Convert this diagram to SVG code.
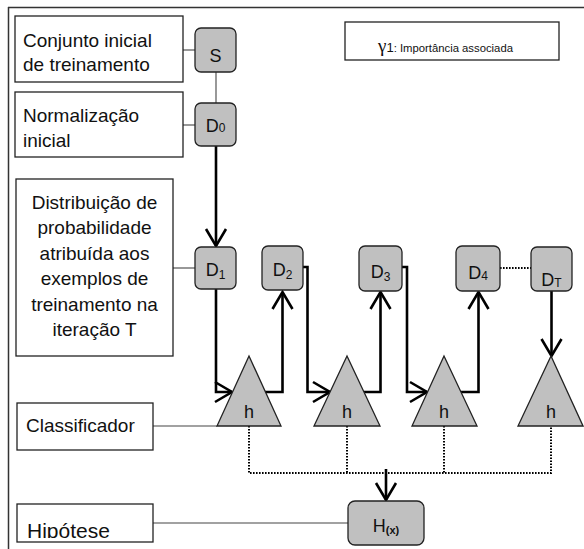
<svg xmlns="http://www.w3.org/2000/svg" width="584" height="549" viewBox="0 0 584 549">
<style>
.box{fill:#fff;stroke:#222;stroke-width:1.3}
.node{fill:#c0c0c0;stroke:#222;stroke-width:1.3}
.lbl{font-family:"Liberation Sans",Arial,sans-serif;font-size:19px;fill:#111}
.nl{font-family:"Liberation Sans",Arial,sans-serif;font-size:18px;fill:#111}
.thin{stroke:#444;stroke-width:1.1;fill:none}
.thick{stroke:#000;stroke-width:2.6;fill:none}
.dot{stroke:#000;stroke-width:2;stroke-dasharray:1.6 1.4;fill:none}
</style>
<defs>
<marker id="arr" markerUnits="userSpaceOnUse" markerWidth="24" markerHeight="24" viewBox="-2 -2 24 24" refX="17" refY="10" orient="auto" overflow="visible">
<path d="M0,0 L17,10 L0,20" fill="none" stroke="#000" stroke-width="2.6"/>
</marker>
<clipPath id="hipclip"><rect x="17" y="504" width="136" height="34"/></clipPath>
</defs>
<rect width="584" height="549" fill="#fff"/>
<g id="frame">
<line x1="8" y1="7.5" x2="584" y2="7.5" stroke="#333" stroke-width="1.5"/>
<line x1="8.5" y1="7" x2="8.5" y2="549" stroke="#333" stroke-width="1.5"/>
</g>
<g id="connectors">
<line class="thin" x1="183" y1="50" x2="195" y2="50"/>
<line class="thin" x1="183" y1="125" x2="195" y2="125"/>
<line class="thin" x1="216" y1="72" x2="216" y2="103"/>
<line class="thick" x1="216" y1="146" x2="216" y2="246" marker-end="url(#arr)"/>
<line class="thin" x1="173" y1="268" x2="195" y2="268"/>
<polyline class="thick" points="216,289 216,392 232,392" marker-end="url(#arr)"/>
<polyline class="thick" points="265,392 282.5,392 282.5,292" marker-end="url(#arr)"/>
<polyline class="thick" points="303,267 307.5,267 307.5,392 330,392" marker-end="url(#arr)"/>
<polyline class="thick" points="363.5,392 380.5,392 380.5,292" marker-end="url(#arr)"/>
<polyline class="thick" points="402,267 407,267 407,392 427,392" marker-end="url(#arr)"/>
<polyline class="thick" points="460.5,392 478.5,392 478.5,292" marker-end="url(#arr)"/>
<line class="dot" x1="500" y1="268" x2="531" y2="268"/>
<line class="thick" x1="551.5" y1="291" x2="551.5" y2="356" marker-end="url(#arr)"/>
<line class="thin" x1="153" y1="426" x2="217" y2="426"/>
<line class="thin" x1="153" y1="523" x2="348" y2="523"/>
<polyline class="dot" points="249,426 249,473 551,473 551,426"/>
<line class="dot" x1="347" y1="426" x2="347" y2="473"/>
<line class="dot" x1="444" y1="426" x2="444" y2="473"/>
<line class="thick" x1="386" y1="469" x2="386" y2="500" marker-end="url(#arr)"/>
</g>
<g id="box-conjunto">
<rect class="box" x="15" y="16" width="168" height="66"/>
<text class="lbl" x="23" y="47">Conjunto inicial</text>
<text class="lbl" x="23" y="71">de treinamento</text>
</g>
<g id="box-normalizacao">
<rect class="box" x="15" y="92" width="168" height="65"/>
<text class="lbl" x="23" y="122">Normalização</text>
<text class="lbl" x="23" y="147">inicial</text>
</g>
<g id="box-distribuicao">
<rect class="box" x="16" y="179" width="157" height="177"/>
<g class="lbl" text-anchor="middle">
<text x="94.5" y="209">Distribuição de</text>
<text x="94.5" y="234">probabilidade</text>
<text x="94.5" y="260">atribuída aos</text>
<text x="94.5" y="285">exemplos de</text>
<text x="94.5" y="311">treinamento na</text>
<text x="94.5" y="336">iteração T</text>
</g>
</g>
<g id="box-classificador">
<rect class="box" x="17" y="403" width="136" height="47"/>
<text class="lbl" x="26" y="432">Classificador</text>
</g>
<g id="box-hipotese">
<rect class="box" x="17" y="504" width="136" height="38"/>
<text class="lbl" x="27" y="538" style="font-size:21px" clip-path="url(#hipclip)">Hipótese</text>
</g>
<g id="box-gamma">
<rect class="box" x="345" y="22" width="214" height="38"/>
<text x="378" y="52" fill="#111"><tspan font-family="Liberation Serif,serif" font-size="19px">γ</tspan><tspan font-family="Liberation Sans,sans-serif" font-size="13px">1</tspan><tspan font-family="Liberation Sans,sans-serif" font-size="11.3px">: Importância associada</tspan></text>
</g>
<g id="node-S">
<rect class="node" x="195" y="28" width="41" height="44" rx="6"/>
<text class="nl" x="215.5" y="62" text-anchor="middle">S</text>
</g>
<g id="node-D0">
<rect class="node" x="195" y="103" width="41" height="43" rx="6"/>
<text class="nl" x="215.5" y="132" text-anchor="middle">D<tspan font-size="12px">0</tspan></text>
</g>
<g id="node-D1">
<rect class="node" x="195" y="247" width="41" height="42" rx="6"/>
<text class="nl" x="215.5" y="276" text-anchor="middle">D<tspan font-size="12px" dy="3">1</tspan></text>
</g>
<g id="node-D2">
<rect class="node" x="262" y="246" width="41" height="44" rx="6"/>
<text class="nl" x="282.5" y="276" text-anchor="middle">D<tspan font-size="12px" dy="3">2</tspan></text>
</g>
<g id="node-D3">
<rect class="node" x="359" y="246" width="43" height="45" rx="6"/>
<text class="nl" x="380.5" y="278" text-anchor="middle">D<tspan font-size="12px" dy="3">3</tspan></text>
</g>
<g id="node-D4">
<rect class="node" x="456" y="246" width="44" height="45" rx="6"/>
<text class="nl" x="478" y="279" text-anchor="middle">D<tspan font-size="12px" dy="1">4</tspan></text>
</g>
<g id="node-DT">
<rect class="node" x="531" y="247" width="41" height="44" rx="6"/>
<text class="nl" x="551.5" y="286" text-anchor="middle">D<tspan font-size="12px" dy="1">T</tspan></text>
</g>
<g id="node-h1">
<polygon class="node" points="249,356 217,426 281,426"/>
<text class="nl" x="249" y="418" text-anchor="middle">h</text>
</g>
<g id="node-h2">
<polygon class="node" points="347,356 314,426 380,426"/>
<text class="nl" x="347" y="418" text-anchor="middle">h</text>
</g>
<g id="node-h3">
<polygon class="node" points="444,356 412,426 477,426"/>
<text class="nl" x="444" y="418" text-anchor="middle">h</text>
</g>
<g id="node-h4">
<polygon class="node" points="551,356 518,426 583,426"/>
<text class="nl" x="551" y="418" text-anchor="middle">h</text>
</g>
<g id="node-H">
<rect class="node" x="348" y="501" width="76" height="44" rx="7"/>
<text class="nl" x="386" y="532" text-anchor="middle" font-size="19px">H<tspan font-size="11px" font-weight="bold" dy="2">(x)</tspan></text>
</g>
</svg>
